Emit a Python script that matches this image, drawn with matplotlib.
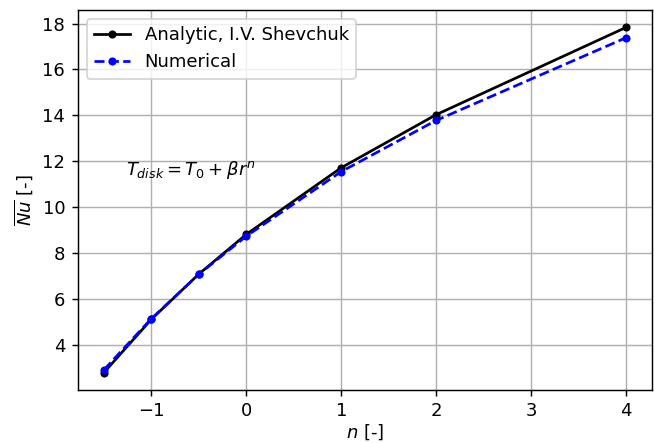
import matplotlib.pyplot as plt

# Exponent of the disk temperature profile
n = [-1.5, -1.0, -0.5, 0.0, 1.0, 2.0, 4.0]

# Mean Nusselt number
nu_analytic = [2.8, 5.12, 7.09, 8.82, 11.72, 14.03, 17.83]
nu_numerical = [2.92, 5.15, 7.08, 8.74, 11.55, 13.78, 17.38]

fig = plt.figure(figsize=(654 / 130, 443 / 130), dpi=130)
ax = fig.add_axes([0.119, 0.12, 0.878, 0.857])

ax.plot(n, nu_analytic, 'k.-', markersize=7, label='Analytic, I.V. Shevchuk')
ax.plot(n, nu_numerical, 'b.--', markersize=7, label='Numerical')

ax.text(-1.27, 11.62, r'$T_{disk} = T_0 + \beta r^n$', va='center', fontsize=10)

ax.set_xlabel(r'$n$ [-]', labelpad=1)
ax.set_ylabel(r'$\overline{Nu}$ [-]')
ax.grid(True)
ax.legend(loc='upper left')

plt.savefig('out.png', dpi=130)
